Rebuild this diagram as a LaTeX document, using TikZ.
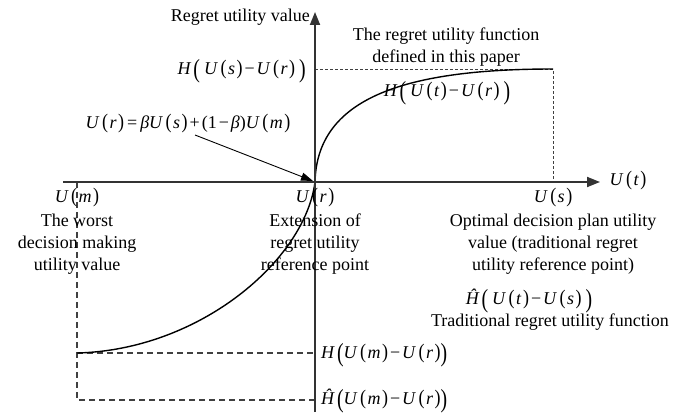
\documentclass[tikz,border=0pt]{standalone}
\usepackage{fontspec}
\usepackage{graphicx}
\setmainfont{Liberation Serif}
\usetikzlibrary{arrows.meta}

% italic variable, function value U(x), and tall parentheses
\newcommand\mv[1]{{\itshape #1\/}}
\newcommand\Uof[1]{\mv{U}\kern2.5pt\scalebox{1}[1.15]{(}\kern1.5pt\mv{#1}\kern1.5pt\scalebox{1}[1.15]{)}}
\newcommand\bl{\raisebox{-0.14em}{\scalebox{1.1}[1.45]{(}}}
\newcommand\br{\raisebox{-0.14em}{\scalebox{1.1}[1.45]{)}}}
\newcommand\mi{\kern2pt−\kern2pt}

\begin{document}
\begin{tikzpicture}[x=1pt,y=-1pt,
  every node/.style={font=\fontsize{18}{22}\selectfont, inner sep=0pt, align=center},
  axis/.style={draw=black!80, line width=1.8pt},
  curve/.style={draw=black, line width=1.4pt},
  guide/.style={draw=black!75, line width=1.1pt, dash pattern=on 6pt off 4pt},
  fineguide/.style={draw=black!75, line width=1pt, dash pattern=on 3pt off 2pt},
  tip/.style={-{Triangle[length=13pt,width=10pt]}}]

\useasboundingbox (0,0) rectangle (676,412);

% reference points
\coordinate (O) at (315,182);
\coordinate (xs) at (63,182);
\coordinate (xe) at (600,182);
\coordinate (yb) at (315,412);
\coordinate (ye) at (315,12);
\coordinate (M) at (77,353);
\coordinate (Mlow) at (77,400);
\coordinate (Mtop) at (77,182);
\coordinate (S) at (553,69);
\coordinate (Sx) at (553,182);
\coordinate (Syy) at (315,69);
\coordinate (Rm) at (315,353);
\coordinate (Rh) at (315,400);
\coordinate (from) at (195,135);

% guide lines
\draw[fineguide] (Syy) -- (S) -- (Sx);
\draw[guide] (Mtop) -- (Mlow) -- (Rh);
\draw[guide] (M) -- (Rm);

% regret utility curve
\draw[curve] (M) .. controls (200,350) and (305,260) .. (O)
             .. controls (317,100) and (400,69) .. (S);

% axes
\draw[axis, tip] (xs) -- (xe);
\draw[axis, tip] (yb) -- (ye);

% pointer to the reference point
\draw[line width=0.9pt, -{Triangle[length=12pt,width=8pt]}] (from) -- (313,181);

% axis titles
\node[anchor=east] (ylab) at (310,17) {Regret utility value};
\node (xlab) at (628,181) {\Uof{t}};

% vertical-axis values
\node[anchor=east] (Hs) at (306,71) {\mv{H}\kern2pt\bl\kern4pt\Uof{s}\mi\Uof{r}\kern4pt\br};
\node[anchor=west] (HUm) at (321,355) {\mv{H}\kern2pt\bl\Uof{m}\mi\Uof{r}\br};
\node[anchor=west] (HhUm) at (321,401) {\mv{Ĥ}\kern2pt\bl\Uof{m}\mi\Uof{r}\br};

% reference-point relation
\node (req) at (188,124) {\Uof{r}\kern3pt=\kern3pt\mv{β}\Uof{s}\kern2pt+\kern2pt(1\mi\mv{β})\Uof{m}};

% curve labels
\node (title) at (446,47) {The regret utility function\\defined in this paper};
\node (Ht) at (447,93) {\mv{H}\kern2pt\bl\kern4pt\Uof{t}\mi\Uof{r}\kern4pt\br};
\node (Hhat) at (529,301) {\mv{Ĥ}\kern2pt\bl\kern4pt\Uof{t}\mi\Uof{s}\kern4pt\br};
\node (trad) at (550,322) {Traditional regret utility function};

% horizontal-axis values
\node (Um) at (77,198) {\Uof{m}};
\node (worst) at (77,244) {The worst\\decision making\\utility value};
\node (Ur) at (315,198) {\Uof{r}};
\node (ext) at (315,244) {Extension of\\regret utility\\reference point};
\node (Us) at (553,198) {\Uof{s}};
\node (opt) at (553,244) {Optimal decision plan utility\\value (traditional regret\\utility reference point)};
\end{tikzpicture}
\end{document}
